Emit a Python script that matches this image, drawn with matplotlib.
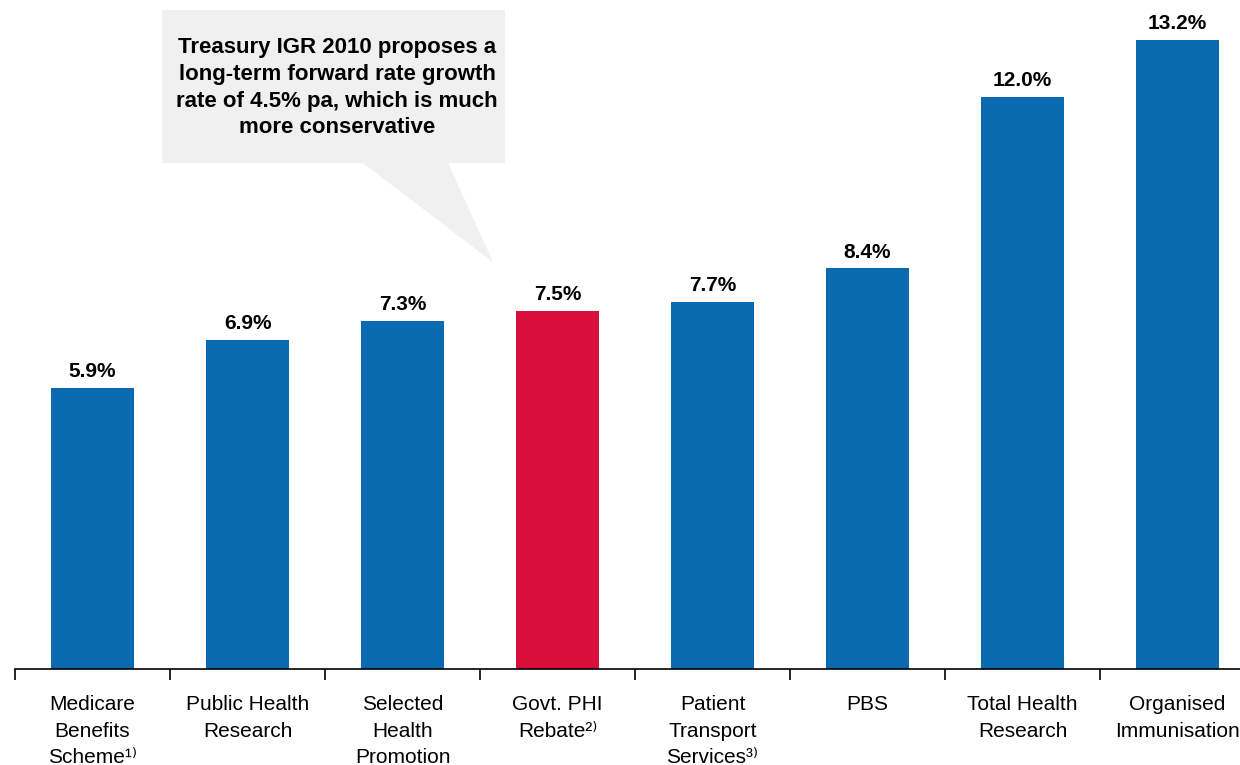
import matplotlib.pyplot as plt
from matplotlib.patches import Polygon
import numpy as np

plt.rcParams['font.family'] = ['Liberation Sans', 'DejaVu Sans']

categories = ["Medicare\nBenefits\nScheme¹⁾", "Public Health\nResearch",
              "Selected\nHealth\nPromotion", "Govt. PHI\nRebate²⁾",
              "Patient\nTransport\nServices³⁾", "PBS", "Total Health\nResearch",
              "Organised\nImmunisation"]
growth = [5.9, 6.9, 7.3, 7.5, 7.7, 8.4, 12.0, 13.2]
highlight = "Govt. PHI\nRebate²⁾"
callout = ("Treasury IGR 2010 proposes a\nlong-term forward rate growth\n"
           "rate of 4.5% pa, which is much\nmore conservative")

blue = '#0A6AB0'
red = '#D80F3A'

fig = plt.figure(figsize=(12.4, 7.65), dpi=100)
ax = fig.add_axes([15 / 1240, 96 / 765, 1 - 15 / 1240, 669 / 765])

x = np.arange(len(categories))
colors = [red if c == highlight else blue for c in categories]
ax.bar(x, growth, width=0.54, color=colors, zorder=2)

for xi, v in zip(x, growth):
    ax.annotate("{:.1f}%".format(v), (xi, v), xytext=(0, 5), textcoords='offset points',
                ha='center', va='bottom', fontsize=15, fontweight='bold')

ax.set_xlim(-0.5, 7.403)
ax.set_ylim(0, 14.03)
ax.set_xticks(x)
ax.set_xticklabels(categories, fontsize=15, linespacing=1.5, va='top')
ax.set_xticks(np.arange(len(categories)) - 0.5, minor=True)
ax.tick_params(axis='x', which='major', length=0, pad=19)
ax.tick_params(axis='x', which='minor', length=8, width=1.2, direction='out')
ax.set_yticks([])
for s in ['left', 'right', 'top']:
    ax.spines[s].set_visible(False)
ax.spines['bottom'].set_linewidth(1.2)

# speech bubble
box = Polygon([(0.448, 13.82), (2.661, 13.82), (2.661, 10.61), (2.294, 10.61),
               (2.584, 8.53), (1.745, 10.61), (0.448, 10.61)],
              closed=True, facecolor='#F0F0F0', edgecolor='none', zorder=1)
ax.add_patch(box)
ax.text(1.577, 12.19, callout, ha='center', va='center', fontsize=16,
        fontweight='bold', linespacing=1.35, zorder=3)

fig.savefig('out.png', dpi=100)
